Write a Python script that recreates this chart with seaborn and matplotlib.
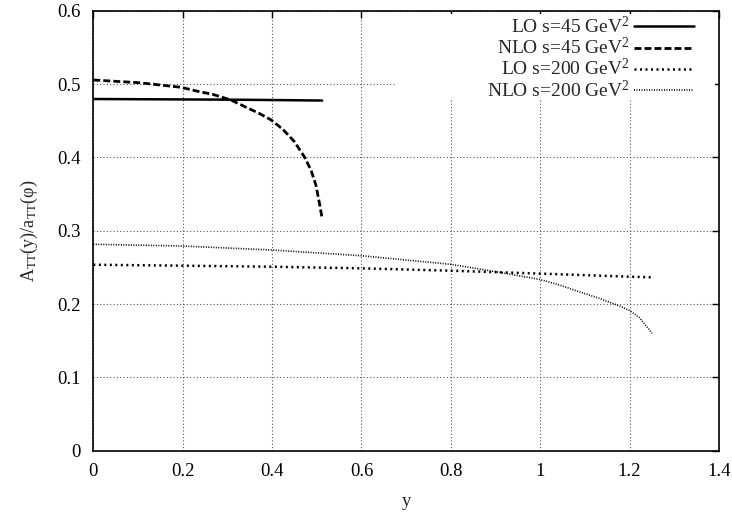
"""
Double spin asymmetry A_TT(y)/a_TT(phi) vs rapidity y, LO and NLO at two energies.
"""

import matplotlib
matplotlib.use("Agg")
import matplotlib.pyplot as plt
from matplotlib.patches import Rectangle
import seaborn as sns
import pandas as pd

# values
y_lo45 = [0.0, 0.1, 0.2, 0.3, 0.4, 0.512]
a_lo45 = [0.4796, 0.4793, 0.4790, 0.4787, 0.4782, 0.4775]

y_nlo45 = [0.0, 0.103, 0.196, 0.237, 0.267, 0.308, 0.342, 0.371, 0.398, 0.424,
           0.450, 0.472, 0.487, 0.498, 0.506, 0.512]
a_nlo45 = [0.5055, 0.5018, 0.4956, 0.4896, 0.4860, 0.4782, 0.4683, 0.4600, 0.4510, 0.4383,
           0.4214, 0.4010, 0.3828, 0.3623, 0.3374, 0.3169]

y_lo200 = [0.0, 0.2, 0.4, 0.6, 0.8, 1.0, 1.2, 1.25]
a_lo200 = [0.2536, 0.2523, 0.2509, 0.2487, 0.2455, 0.2415, 0.2373, 0.2364]

y_nlo200 = [0.0, 0.2, 0.4, 0.6, 0.8, 0.901, 0.998, 1.043, 1.087, 1.132, 1.177, 1.199,
            1.222, 1.244, 1.25]
a_nlo200 = [0.2815, 0.2791, 0.2737, 0.2659, 0.2542, 0.2441, 0.2337, 0.2260, 0.2168, 0.2078,
            0.1975, 0.1915, 0.1815, 0.1650, 0.1601]

labels = [r"LO s=45 GeV$^2$", r"NLO s=45 GeV$^2$", r"LO s=200 GeV$^2$", r"NLO s=200 GeV$^2$"]

x_ticks = [0, 0.2, 0.4, 0.6, 0.8, 1, 1.2, 1.4]
x_ticklabels = ["0", "0.2", "0.4", "0.6", "0.8", "1", "1.2", "1.4"]
y_ticks = [0, 0.1, 0.2, 0.3, 0.4, 0.5, 0.6]
y_ticklabels = ["0", "0.1", "0.2", "0.3", "0.4", "0.5", "0.6"]


def make_plot():
    sns.set_style("white")
    plt.rcParams["font.family"] = ["Liberation Serif", "DejaVu Serif"]
    plt.rcParams["mathtext.fontset"] = "custom"
    plt.rcParams["mathtext.rm"] = "Liberation Serif"
    plt.rcParams["mathtext.default"] = "regular"

    fig = plt.figure(figsize=(7.32, 5.17), dpi=100)
    ax = fig.add_axes([0.1275, 0.1282, 0.8547, 0.8511])

    series = [
        (y_lo45, a_lo45, dict(lw=1.8, linestyle="-")),
        (y_nlo45, a_nlo45, dict(lw=2.0, dashes=(2.5, 1.1))),
        (y_lo200, a_lo200, dict(lw=1.8, dashes=(0.8, 1.4))),
        (y_nlo200, a_nlo200, dict(lw=1.2, dashes=(0.6, 0.9))),
    ]
    for (xs, ys, style), lab in zip(series, labels):
        df = pd.DataFrame({"y": xs, "A": ys})
        sns.lineplot(data=df, x="y", y="A", ax=ax, color="black", label=lab, **style)

    ax.set_xlim(0, 1.4)
    ax.set_ylim(0, 0.6)
    ax.set_xticks(x_ticks)
    ax.set_xticklabels(x_ticklabels)
    ax.set_yticks(y_ticks)
    ax.set_yticklabels(y_ticklabels)
    ax.tick_params(direction="in", top=True, right=True, length=5, width=1,
                   labelsize=13.5, pad=9, colors="black")
    ax.grid(True, color="#555555", linestyle=(0, (1, 2)), linewidth=0.8)
    for sp in ax.spines.values():
        sp.set_color("black")
        sp.set_linewidth(1.2)

    # gnuplot-style key area blanks the grid behind it
    ax.add_patch(Rectangle((0.484, 0.797), 0.51, 0.195, transform=ax.transAxes,
                           facecolor="white", edgecolor="none", zorder=1.8))

    ax.set_xlabel("y", fontsize=13.5)
    ax.xaxis.set_label_coords(0.5, -0.095)
    ax.set_ylabel(r"A$_{TT}$(y)/a$_{TT}$(φ)", fontsize=13)
    ax.yaxis.set_label_coords(-0.085, 0.5)

    leg = ax.legend(loc="upper right", bbox_to_anchor=(0.966, 0.997),
                    markerfirst=False, frameon=False,
                    fontsize=14, handlelength=3.1, handletextpad=0.2,
                    labelspacing=0.0, borderaxespad=0.0, borderpad=0.2)
    leg._legend_box.align = "right"

    fig.savefig("out.png", dpi=100)


if __name__ == "__main__":
    make_plot()
